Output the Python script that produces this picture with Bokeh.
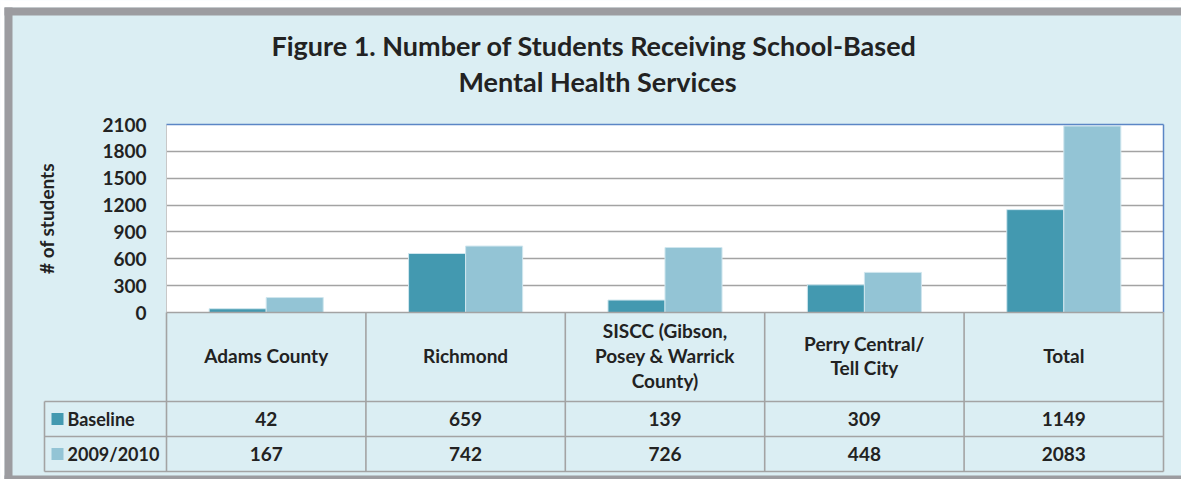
from bokeh.plotting import figure
from bokeh.models import FactorRange, Range1d, FixedTicker, ColumnDataSource
from bokeh.core.properties import value
from bokeh.transform import dodge
from bokeh.embed import file_html
from bokeh.resources import INLINE

# ---------------- data ----------------
title_text = "Figure 1. Number of Students  Receiving School-Based\nMental Health Services"
y_label = "# of students"
categories = ["Adams County", "Richmond", "SISCC", "Perry Central", "Total"]
category_labels = ["Adams County", "Richmond", "SISCC (Gibson,\nPosey & Warrick\nCounty)",
                   "Perry Central/\nTell City", "Total"]
series_names = ["Baseline", "2009/2010"]
baseline = [42, 659, 139, 309, 1149]
year_2009_2010 = [167, 742, 726, 448, 2083]
y_ticks = [0, 300, 600, 900, 1200, 1500, 1800, 2100]

# ---------------- style ----------------
FONT = "Lato"
BG = "#DBEEF3"
DARK = "#4399B0"
LIGHT = "#93C4D5"
GRID = "#A3A3A3"
TABLE_LINE = "#A3A3A3"
BORDER = "#9C9CA0"
BLUE_EDGE = "#5B86C5"
TXT = "#222222"

W, H = 1181, 479
FL, FR, FT, FB = 166, 1163, 124, 312          # plot frame (px)
CAT_ROW_BOTTOM, ROW1_BOTTOM, ROW2_BOTTOM = 401, 436, 471
LEG_LEFT = 44

n = len(categories)
px_per_cat = (FR - FL) / n
px_per_val = (FB - FT) / y_ticks[-1]


def xd(px):
    return (px - FL) / px_per_cat


def yd(py):
    return (FB - py) / px_per_val


p = figure(width=W, height=H,
           x_range=FactorRange(factors=categories, range_padding=0),
           y_range=Range1d(0, y_ticks[-1]),
           min_border_left=FL, min_border_right=W - FR,
           min_border_top=FT, min_border_bottom=H - FB,
           output_backend="svg", toolbar_location=None, x_axis_location=None)
p.background_fill_color = "white"
p.border_fill_color = BG
p.outline_line_color = None
p.xgrid.visible = False
p.ygrid.ticker = FixedTicker(ticks=y_ticks)
p.ygrid.grid_line_color = GRID
p.ygrid.grid_line_width = 1.6

ax = p.yaxis[0]
ax.ticker = FixedTicker(ticks=y_ticks)
ax.axis_line_color = None
ax.major_tick_line_color = None
ax.minor_tick_line_color = None
ax.major_tick_out = 0
ax.major_tick_in = 0
ax.major_label_standoff = 20
ax.major_label_text_font = FONT
ax.major_label_text_font_style = "bold"
ax.major_label_text_font_size = "19px"
ax.major_label_text_color = TXT
ax.axis_label = y_label
ax.axis_label_text_font = FONT
ax.axis_label_text_font_style = "bold"
ax.axis_label_text_font_size = "19px"
ax.axis_label_text_color = TXT
ax.axis_label_standoff = 41

src = ColumnDataSource(dict(cat=categories, baseline=baseline, y2010=year_2009_2010))
BW = 0.286
p.vbar(x=dodge("cat", -BW / 2, range=p.x_range), top="baseline", width=BW, source=src,
       fill_color=DARK, line_color="#CFE6EE", line_width=1)
p.vbar(x=dodge("cat", BW / 2, range=p.x_range), top="y2010", width=BW, source=src,
       fill_color=LIGHT, line_color="#CFE6EE", line_width=1)

# plot-area edges
p.segment(x0=[0], y0=[0], x1=[0], y1=[y_ticks[-1]], line_color="#C8C8C8", line_width=1, level="overlay")
p.segment(x0=[0, n], y0=[y_ticks[-1], 0], x1=[n, n], y1=[y_ticks[-1], y_ticks[-1]],
          line_color=BLUE_EDGE, line_width=1.5, level="overlay")

# data table lines
hx0 = [0, xd(LEG_LEFT), xd(LEG_LEFT), xd(LEG_LEFT)]
hy = [0, yd(CAT_ROW_BOTTOM), yd(ROW1_BOTTOM), yd(ROW2_BOTTOM)]
p.segment(x0=hx0, y0=hy, x1=[n] * 4, y1=hy, line_color=TABLE_LINE, line_width=1.6, level="overlay")
vx = [xd(LEG_LEFT)] + list(range(n + 1))
vy0 = [yd(CAT_ROW_BOTTOM)] + [0] * (n + 1)
p.segment(x0=vx, y0=vy0, x1=vx, y1=[yd(ROW2_BOTTOM)] * (n + 2), line_color=TABLE_LINE,
          line_width=1.6, level="overlay")

centers = [i + 0.5 for i in range(n)]
tkw = dict(text_font=value(FONT), text_font_style="bold", text_color=TXT, level="overlay")
p.text(x=centers, y=[yd((FB + CAT_ROW_BOTTOM) / 2 - 1.5)] * n, text=category_labels,
       text_align="center", text_baseline="middle", text_font_size="19px",
       text_line_height=1.08, **tkw)
p.text(x=centers, y=[yd((CAT_ROW_BOTTOM + ROW1_BOTTOM) / 2)] * n, text=[str(v) for v in baseline],
       text_align="center", text_baseline="middle", text_font_size="19px", **tkw)
p.text(x=centers, y=[yd((ROW1_BOTTOM + ROW2_BOTTOM) / 2)] * n, text=[str(v) for v in year_2009_2010],
       text_align="center", text_baseline="middle", text_font_size="19px", **tkw)

# legend keys inside the table
row_mid_px = [(CAT_ROW_BOTTOM + ROW1_BOTTOM) / 2, (ROW1_BOTTOM + ROW2_BOTTOM) / 2]
row_mid = [yd(v) for v in row_mid_px]
p.quad(left=[xd(51)] * 2, right=[xd(63)] * 2, top=[yd(v - 6) for v in row_mid_px],
       bottom=[yd(v + 6) for v in row_mid_px], fill_color=[DARK, LIGHT], line_color=None,
       level="overlay")
p.text(x=[xd(67)] * 2, y=row_mid, text=series_names, text_align="left", text_baseline="middle",
       text_font_size="18px", **tkw)

# title
p.text(x=[xd(597)], y=[yd(63)], text=[title_text], text_align="center", text_baseline="middle",
       text_font_size="27px", text_line_height=1.12, **tkw)

# outer frame of the figure box
p.quad(left=[xd(0), xd(0)], right=[xd(W), xd(4)], top=[yd(0), yd(0)], bottom=[yd(7), yd(H)],
       fill_color="white", line_color=None, level="overlay")
p.quad(left=[xd(4), xd(4), xd(4)], right=[xd(W), xd(12), xd(W)], top=[yd(7), yd(7), yd(475)],
       bottom=[yd(15), yd(H), yd(H)], fill_color=BORDER, line_color=None, level="overlay")

open("out.html", "w").write(file_html(p, INLINE))
